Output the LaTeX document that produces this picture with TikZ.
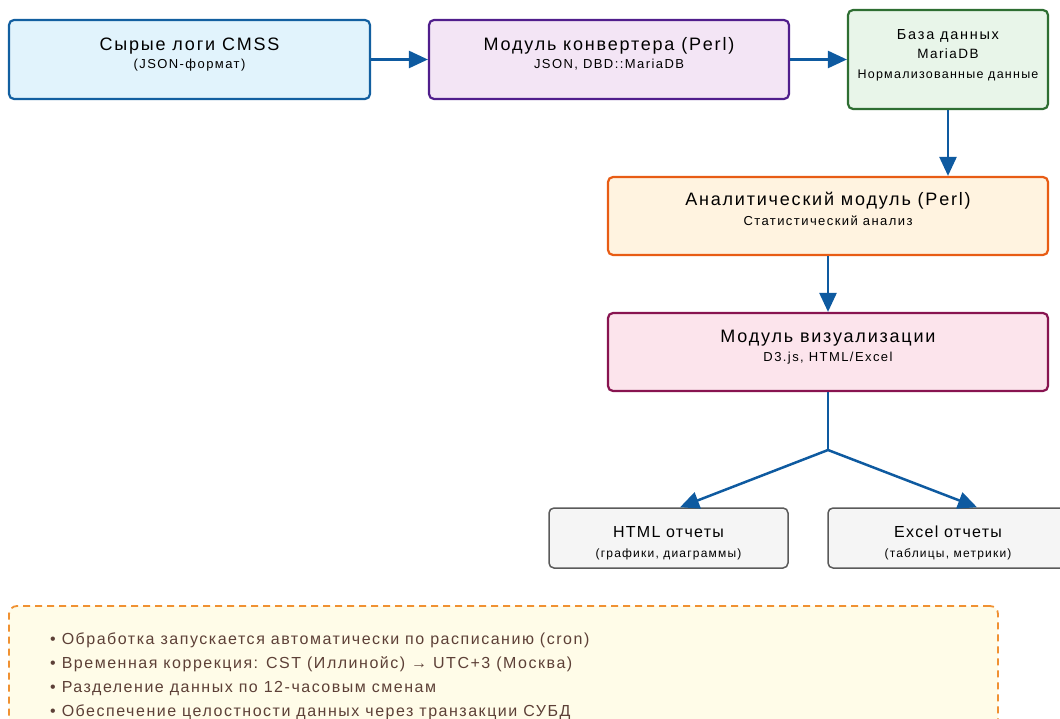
\documentclass[tikz,border=0pt]{standalone}
\usepackage{fontspec}
\setmainfont{Liberation Sans}
\usetikzlibrary{arrows.meta,calc}
\definecolor{arrowblue}{RGB}{14,90,160}
\definecolor{b1fill}{RGB}{225,243,252}
\definecolor{b1draw}{RGB}{18,95,160}
\definecolor{b2fill}{RGB}{243,229,245}
\definecolor{b2draw}{RGB}{80,30,140}
\definecolor{b3fill}{RGB}{232,245,233}
\definecolor{b3draw}{RGB}{46,110,50}
\definecolor{b4fill}{RGB}{255,243,224}
\definecolor{b4draw}{RGB}{232,92,20}
\definecolor{b5fill}{RGB}{252,228,236}
\definecolor{b5draw}{RGB}{136,20,80}
\definecolor{b6fill}{RGB}{245,245,245}
\definecolor{b6draw}{RGB}{90,90,90}
\definecolor{notefill}{RGB}{255,252,232}
\definecolor{notedraw}{RGB}{240,145,50}
\definecolor{notetext}{RGB}{93,64,55}
\newcommand{\fs}[3]{\fontsize{#1}{#2}\selectfont\addfontfeature{LetterSpace=#3}}
\tikzset{
  box/.style={rectangle, rounded corners=5pt, line width=2.2pt, inner sep=0pt},
  outbox/.style={rectangle, rounded corners=5pt, line width=1.5pt, inner sep=0pt, draw=b6draw, fill=b6fill},
  conn/.style={draw=arrowblue, line width=2.5pt, -{Triangle[length=19pt,width=17pt]}},
  connline/.style={draw=arrowblue, line width=2.5pt},
  ttl/.style={anchor=base, inner sep=0pt, font=\fs{18}{20}{10}},
  sub/.style={anchor=base, inner sep=0pt, font=\fs{13}{15}{11}},
  notel/.style={anchor=base west, inner sep=0pt, text=notetext, font=\fs{16}{18}{9.5}},
}
\begin{document}
\begin{tikzpicture}[x=1pt,y=-1pt]
\useasboundingbox (0,0) rectangle (1060,719);
% boxes
\node[box, draw=b1draw, fill=b1fill, minimum width=361pt, minimum height=79pt] (raw) at (189.5,59.5) {};
\node[box, draw=b2draw, fill=b2fill, minimum width=360pt, minimum height=79pt] (conv) at (609,59.5) {};
\node[box, draw=b3draw, fill=b3fill, minimum width=200pt, minimum height=99pt] (db) at (948,59.5) {};
\node[box, draw=b4draw, fill=b4fill, minimum width=440pt, minimum height=78pt] (anal) at (828,216) {};
\node[box, draw=b5draw, fill=b5fill, minimum width=440pt, minimum height=78pt] (vis) at (828,352) {};
\node[outbox, minimum width=239pt, minimum height=60pt] (html) at (668.5,538) {};
\node[outbox, minimum width=240pt, minimum height=60pt] (excel) at (948,538) {};
\node[rectangle, rounded corners=8pt, draw=notedraw, fill=notefill, line width=1.8pt, dash pattern=on 7pt off 5pt, minimum width=989pt, minimum height=160pt, inner sep=0pt] (note) at (503.5,686) {};
% texts
\node[ttl] (rawt) at (189.5,50.5) {Сырые логи CMSS};
\node[sub] (raws) at (189.5,68.5) {(JSON-формат)};
\node[ttl] (convt) at (609,50.5) {Модуль конвертера (Perl)};
\node[sub] (convs) at (609,68.5) {JSON, DBD::MariaDB};
\node[anchor=base, inner sep=0pt, font=\fs{14.5}{17}{12}] (dbt) at (948,39.5) {База данных};
\node[anchor=base, inner sep=0pt, font=\fs{13.5}{16}{11}] (dbm) at (948,58.5) {MariaDB};
\node[anchor=base, inner sep=0pt, font=\fs{12.5}{15}{10}] (dbn) at (948,79) {Нормализованные данные};
\node[ttl] (analt) at (828,205.5) {Аналитический модуль (Perl)};
\node[sub] (anals) at (828,225.5) {Статистический анализ};
\node[ttl] (vist) at (828,342.5) {Модуль визуализации};
\node[sub] (viss) at (828,361.5) {D3.js, HTML/Excel};
\node[anchor=base, inner sep=0pt, font=\fs{16}{18}{8}] (htmlt) at (668.5,537.5) {HTML отчеты};
\node[anchor=base, inner sep=0pt, font=\fs{12}{14}{10}] (htmls) at (668.5,557.5) {(графики, диаграммы)};
\node[anchor=base, inner sep=0pt, font=\fs{16}{18}{8}] (excelt) at (948,537.5) {Excel отчеты};
\node[anchor=base, inner sep=0pt, font=\fs{12}{14}{10}] (excels) at (948,557.5) {(таблицы, метрики)};
\node[notel] (n1) at (50,644) {• Обработка запускается автоматически по расписанию (cron)};
\node[notel] (n2) at (50,668) {• Временная коррекция: CST (Иллинойс) → UTC+3 (Москва)};
\node[notel] (n3) at (50,692) {• Разделение данных по 12-часовым сменам};
\node[notel] (n4) at (50,716) {• Обеспечение целостности данных через транзакции СУБД};
% connectors
\draw[conn] (raw.east) -- (conv.west);
\draw[conn] (conv.east) -- (conv.east -| db.west);
\draw[conn] (db.south) -- (db.south |- anal.north);
\draw[conn] (anal.south) -- (vis.north);
\coordinate (split) at (828,450);
\draw[connline] (vis.south) -- (split);
\draw[conn] (split) -- ($(html.north west)!0.548!(html.north east)$);
\draw[conn] (split) -- ($(excel.north west)!0.62!(excel.north east)$);
\end{tikzpicture}
\end{document}
